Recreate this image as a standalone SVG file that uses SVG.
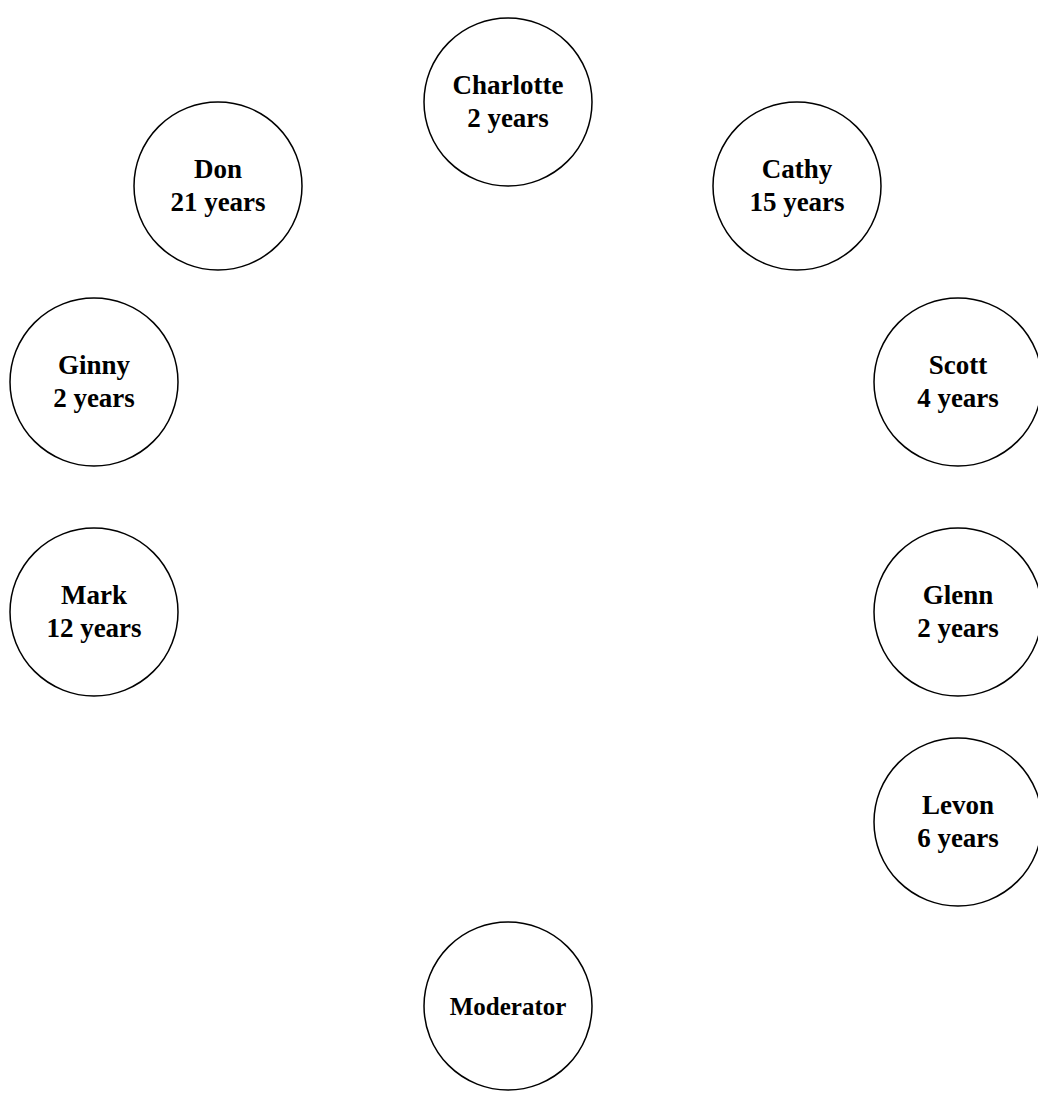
<svg xmlns="http://www.w3.org/2000/svg" width="1038" height="1106" viewBox="0 0 1038 1106">
<style>
.n{fill:#fff;stroke:#000;stroke-width:1.5}
.t{font-family:"Liberation Serif","Times New Roman",serif;font-weight:bold;font-size:27px;fill:#000;text-anchor:middle}
.m{font-size:25px}
</style>
<rect width="1038" height="1106" fill="#fff"/>
<g id="connectors"/>
<g id="charlotte"><circle class="n" cx="508" cy="102" r="84"/><text class="t" x="508" y="94">Charlotte</text><text class="t" x="508" y="127">2 years</text></g>
<g id="don"><circle class="n" cx="218" cy="186" r="84"/><text class="t" x="218" y="178">Don</text><text class="t" x="218" y="211">21 years</text></g>
<g id="cathy"><circle class="n" cx="797" cy="186" r="84"/><text class="t" x="797" y="178">Cathy</text><text class="t" x="797" y="211">15 years</text></g>
<g id="ginny"><circle class="n" cx="94" cy="382" r="84"/><text class="t" x="94" y="374">Ginny</text><text class="t" x="94" y="407">2 years</text></g>
<g id="scott"><circle class="n" cx="958" cy="382" r="84"/><text class="t" x="958" y="374">Scott</text><text class="t" x="958" y="407">4 years</text></g>
<g id="mark"><circle class="n" cx="94" cy="612" r="84"/><text class="t" x="94" y="604">Mark</text><text class="t" x="94" y="637">12 years</text></g>
<g id="glenn"><circle class="n" cx="958" cy="612" r="84"/><text class="t" x="958" y="604">Glenn</text><text class="t" x="958" y="637">2 years</text></g>
<g id="levon"><circle class="n" cx="958" cy="822" r="84"/><text class="t" x="958" y="814">Levon</text><text class="t" x="958" y="847">6 years</text></g>
<g id="moderator"><circle class="n" cx="508" cy="1006" r="84"/><text class="t m" x="508" y="1015">Moderator</text></g>
</svg>
